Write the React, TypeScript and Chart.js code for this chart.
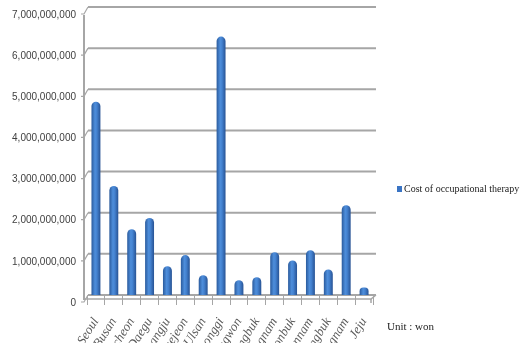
import React, { useEffect, useRef } from 'react';
import { Chart, registerables } from 'chart.js';

Chart.register(...registerables);

const categories = ['Seoul', 'Busan', 'Incheon', 'Daegu', 'Gwangju', 'Daejeon', 'Ulsan', 'Gyeonggi', 'Gangwon', 'Chungbuk', 'Chungnam', 'Jeonbuk', 'Jeonnam', 'Gyeongbuk', 'Gyeongnam', 'Jeju'];
const costValues = [4700000000, 2650000000, 1600000000, 1870000000, 700000000, 970000000, 480000000, 6280000000, 360000000, 430000000, 1040000000, 840000000, 1090000000, 620000000, 2180000000, 180000000];
const yMin = 0;
const yMax = 7000000000;
const yStep = 1000000000;
const seriesName = 'Cost of occupational therapy';
const unitNote = 'Unit : won';

const GRID = '#a6a6a6';

const wallPlugin = {
  id: 'wall3d',
  beforeDatasetsDraw(chart: any) {
    const ctx = chart.ctx;
    const area = chart.chartArea;
    const y = chart.scales.y;
    ctx.save();
    ctx.strokeStyle = GRID;
    ctx.lineWidth = 2;
    const left = area.left + 1;
    const right = area.right + 3;
    ctx.beginPath();
    ctx.moveTo(left - 4, y.getPixelForValue(yMax) + 8);
    ctx.lineTo(left - 4, y.getPixelForValue(yMin) + 5);
    ctx.stroke();
    y.ticks.forEach((t: any) => {
      const py = y.getPixelForValue(t.value);
      ctx.beginPath();
      ctx.moveTo(left, py);
      ctx.lineTo(right, py);
      ctx.stroke();
      ctx.lineWidth = 1.2;
      ctx.beginPath();
      ctx.moveTo(left, py);
      ctx.lineTo(left - 4, py + 7);
      ctx.lineTo(left - 7, py + 7);
      ctx.stroke();
      ctx.lineWidth = 2;
    });
    const base = y.getPixelForValue(yMin);
    ctx.lineWidth = 1.5;
    ctx.beginPath();
    ctx.moveTo(left - 4, base + 4);
    ctx.lineTo(right - 5, base + 4);
    ctx.lineTo(right, base);
    ctx.stroke();
    ctx.beginPath();
    ctx.moveTo(right - 5, base + 4);
    ctx.lineTo(right - 5, base + 8);
    ctx.stroke();
    ctx.restore();
  },
};

const legendPlugin = {
  id: 'sideLegend',
  afterDraw(chart: any) {
    const ctx = chart.ctx;
    const area = chart.chartArea;
    ctx.save();
    const x = area.right + 24;
    const y = 189;
    ctx.fillStyle = '#3a74c4';
    ctx.fillRect(x, y - 3, 5, 6);
    ctx.fillStyle = '#222222';
    ctx.font = '10px "Liberation Serif", serif';
    ctx.textBaseline = 'middle';
    ctx.textAlign = 'left';
    ctx.fillText(seriesName, x + 7, y + 0.5);
    ctx.font = '11px "Liberation Serif", serif';
    ctx.fillText(unitNote, area.right + 14, 327);
    ctx.restore();
  },
};

function barFill(c: any) {
  const chart = c.chart;
  const xs = chart.scales && chart.scales.x;
  if (!xs || xs.getPixelForValue === undefined || !isFinite(xs.getPixelForValue(c.dataIndex))) return '#3a74c4';
  const cx = xs.getPixelForValue(c.dataIndex);
  const g = chart.ctx.createLinearGradient(cx - 4.5, 0, cx + 4.5, 0);
  g.addColorStop(0, '#2a5a9c');
  g.addColorStop(0.4, '#4e8edb');
  g.addColorStop(0.6, '#4482d0');
  g.addColorStop(1, '#275293');
  return g;
}

export default function App() {
  const ref = useRef<HTMLCanvasElement | null>(null);
  useEffect(() => {
    if (!ref.current) return;
    const chart = new Chart(ref.current, {
      type: 'bar',
      data: {
        labels: categories,
        datasets: [
          {
            label: seriesName,
            data: costValues,
            backgroundColor: barFill,
            borderWidth: 0,
            borderSkipped: 'start',
            borderRadius: { topLeft: 4.5, topRight: 4.5, bottomLeft: 0, bottomRight: 0 },
            barPercentage: 0.5,
            categoryPercentage: 1,
          },
        ],
      },
      options: {
        responsive: false,
        animation: false,
        layout: { padding: { top: 7, right: 155, left: 0, bottom: 0 } },
        plugins: {
          legend: { display: false },
          tooltip: { enabled: false },
        },
        scales: {
          x: {
            offset: true,
            grid: {
              offset: true,
              drawOnChartArea: false,
              color: GRID,
              tickLength: 10,
              lineWidth: 1,
            },
            border: { display: false },
            ticks: {
              autoSkip: false,
              minRotation: 58,
              maxRotation: 58,
              color: '#595959',
              font: { family: '"Liberation Serif", serif', size: 13, style: 'italic' },
              padding: 10,
            },
            afterFit(scale: any) {
              scale.height = 48;
              scale.paddingLeft = 0;
              scale.paddingRight = 0;
            },
          },
          y: {
            min: yMin,
            max: yMax,
            ticks: {
              stepSize: yStep,
              color: '#404040',
              font: { family: '"Liberation Sans", Arial, sans-serif', size: 10 },
              padding: 3,
              labelOffset: 8,
              callback: (v: any) => Number(v).toLocaleString('en-US'),
            },
            grid: { display: false },
            border: { display: false },
            afterFit(scale: any) {
              scale.width = 87;
              scale.paddingTop = 0;
              scale.paddingBottom = 0;
            },
          },
        },
      },
      plugins: [wallPlugin, legendPlugin],
    });
    return () => chart.destroy();
  }, []);
  return (
    <div style={{ position: 'fixed', left: 0, top: 0, width: 528, height: 343, background: '#ffffff' }}>
      <canvas ref={ref} width={528} height={343} style={{ display: 'block' }} />
    </div>
  );
}
